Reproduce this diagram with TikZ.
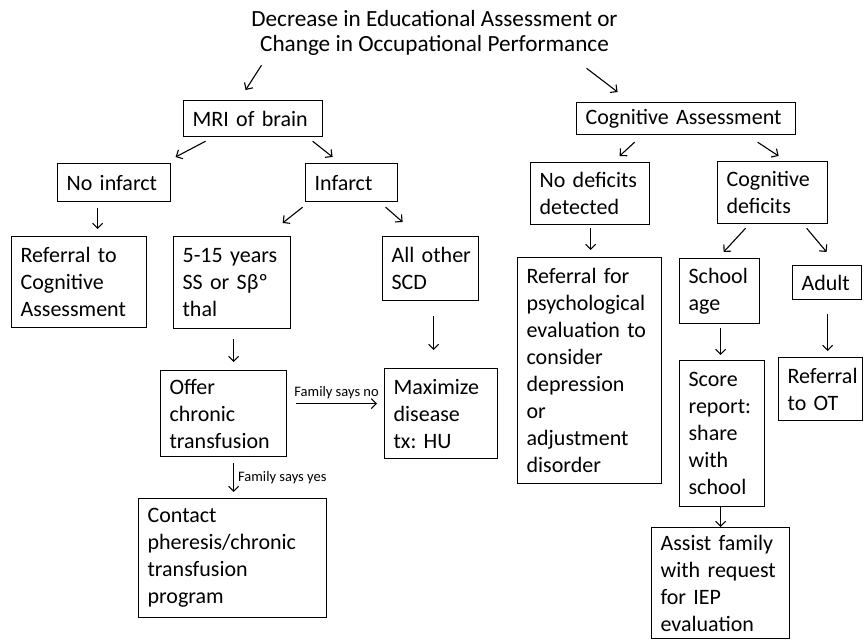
\documentclass[tikz,border=0pt]{standalone}
\usepackage{fontspec}
\setmainfont{Carlito}
\usetikzlibrary{arrows.meta}
\begin{document}
\begin{tikzpicture}[x=1pt,y=-1pt,
  box/.style={draw=black, line width=1.2pt, anchor=north west, align=left,
    inner xsep=9pt, inner ysep=3pt, font=\fontsize{22}{27}\selectfont},
  arr/.style={line width=1.1pt, -{Straight Barb[length=5pt,width=10pt]}},
  lab/.style={font=\fontsize{14.5}{16}\selectfont, inner sep=1pt}]
\useasboundingbox[fill=white] (0,0) rectangle (864,644);

\node[align=center, font=\fontsize{23.2}{25}\selectfont, inner sep=0pt] (title) at (434.5,32.5)
  {Decrease in Educational Assessment or\\Change in Occupational Performance};

\node[box, minimum width=139pt, minimum height=36pt, text width=121pt] (mri) at (183,100) {MRI~of~brain};
\node[box, minimum width=219pt, minimum height=32pt, text width=201pt] (cog) at (576,102) {Cognitive~Assessment};
\node[box, minimum width=113pt, minimum height=38pt, text width=95pt] (noinf) at (57,163) {No~infarct};
\node[box, minimum width=92pt, minimum height=38pt, text width=74pt] (inf) at (305,163) {Infarct};
\node[box, minimum width=135pt, minimum height=91pt, text width=117pt] (ref1) at (11,236) {Referral~to\\Cognitive\\Assessment};
\node[box, minimum width=117pt, minimum height=92pt, text width=99pt] (yrs) at (173,236) {5-15~years\\SS~or~Sβº\\thal};
\node[box, minimum width=96pt, minimum height=64pt, text width=78pt] (other) at (382,236) {All~other\\SCD};
\node[box, minimum width=126pt, minimum height=86pt, text width=108pt] (offer) at (160,370) {Offer\\chronic\\transfusion};
\node[box, minimum width=113pt, minimum height=90pt, text width=95pt] (maxi) at (384,368) {Maximize\\disease\\tx:~HU};
\node[box, minimum width=188pt, minimum height=119pt, text width=170pt] (contact) at (138,498) {Contact\\pheresis/chronic\\transfusion\\program};
\node[box, minimum width=119pt, minimum height=62pt, text width=101pt] (nodef) at (530,162) {No~deficits\\detected};
\node[box, minimum width=110pt, minimum height=62pt, text width=92pt] (cdef) at (717,161) {Cognitive\\deficits};
\node[box, minimum width=144pt, minimum height=226pt, text width=126pt] (psych) at (517,257) {Referral~for\\psychological\\evaluation~to\\consider\\depression\\or\\adjustment\\disorder};
\node[box, minimum width=80pt, minimum height=65pt, text width=62pt] (school) at (679,258) {School\\age};
\node[box, minimum width=69pt, minimum height=34pt, text width=51pt] (adult) at (792,265) {Adult};
\node[box, minimum width=85pt, minimum height=146pt, text width=67pt] (score) at (679,360) {Score\\report:\\share\\with\\school};
\node[box, minimum width=84pt, minimum height=63pt, text width=66pt] (ot) at (778,357) {Referral\\to~OT};
\node[box, minimum width=138pt, minimum height=111pt, text width=120pt] (assist) at (651,527) {Assist~family\\with~request\\for~IEP\\evaluation};

% connectors
\draw[arr] ([shift={(-173,10)}]title.south) -- ([shift={(-7.5,-10)}]mri.north);
\draw[arr] ([shift={(152,13)}]title.south) -- ([shift={(-68.5,-10)}]cog.north);
\draw[arr] ([shift={(-47.5,4)}]mri.south) -- ([shift={(61.5,-6)}]noinf.north);
\draw[arr] ([shift={(59.5,4)}]mri.south) -- ([shift={(-19,-6)}]inf.north);
\draw[arr] ([shift={(-16.5,6)}]noinf.south) -- ([shift={(18.5,-7)}]ref1.north);
\draw[arr] ([shift={(-49,5)}]inf.south) -- ([shift={(50.5,-13)}]yrs.north);
\draw[arr] ([shift={(34,5)}]inf.south) -- ([shift={(-28,-14)}]other.north);
\draw[arr] ([shift={(1.5,10)}]yrs.south) -- ([shift={(10,-8)}]offer.north);
\draw[arr] ([shift={(3,15)}]other.south) -- ([shift={(-7.5,-18)}]maxi.north);
\draw[arr] ([shift={(9,-10)}]offer.east) -- node[lab, above=3pt] {Family says no} ([shift={(-7,-10)}]maxi.west);
\draw[arr] ([shift={(10,6)}]offer.south) -- node[lab, right=3pt] {Family says yes} ([shift={(1,-6)}]contact.north);
\draw[arr] ([shift={(-51.5,7)}]cog.south) -- ([shift={(29.5,-6)}]nodef.north);
\draw[arr] ([shift={(71.5,7)}]cog.south) -- ([shift={(6,-5)}]cdef.north);
\draw[arr] ([shift={(0.5,3)}]nodef.south) -- ([shift={(1,-7)}]psych.north);
\draw[arr] ([shift={(-27,4)}]cdef.south) -- ([shift={(4,-6)}]school.north);
\draw[arr] ([shift={(34,4)}]cdef.south) -- ([shift={(-0.5,-13)}]adult.north);
\draw[arr] ([shift={(1,4)}]school.south) -- ([shift={(-1.5,-5)}]score.north);
\draw[arr] ([shift={(0.5,14)}]adult.south) -- ([shift={(7,-6)}]ot.north);
\draw[arr] ([shift={(-1.5,0)}]score.south) -- ([shift={(0,0)}]assist.north);
\end{tikzpicture}
\end{document}
